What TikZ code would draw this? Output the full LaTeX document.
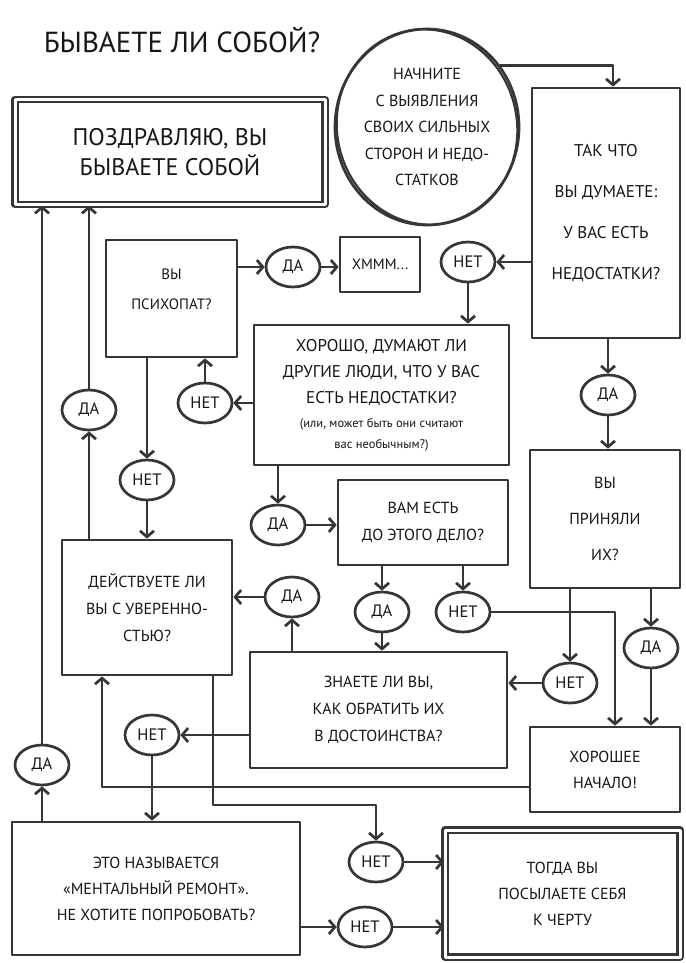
\documentclass[tikz,border=0pt]{standalone}
\usepackage{fontspec}
\setmainfont{PT Sans}
\usetikzlibrary{arrows.meta,shapes.geometric,calc}
\definecolor{ink}{HTML}{363636}
\definecolor{txt}{HTML}{161616}
\begin{document}
\begin{tikzpicture}[x=1pt,y=-1pt,
  line width=2.7pt, draw=ink, line cap=round, line join=round,
  qbox/.style={draw=ink, fill=white, rectangle, align=center, inner sep=0pt, text=txt,
               font=\fontsize{17}{28}\selectfont},
  oval/.style={draw=ink, fill=white, ellipse, minimum width=54pt, minimum height=40pt,
               inner sep=0pt, text=txt, font=\fontsize{16.5}{18}\selectfont},
  arr/.style={draw=ink, -{Straight Barb[length=6pt,width=14pt]}},
  dbl/.style={double=white, double distance=3pt, line width=2.2pt}
]
\fill[white] (0,0) rectangle (685,963);
\useasboundingbox (0,0) rectangle (685,963);

% title
\node[text=txt, font=\fontsize{29}{30}\selectfont] (title) at (182,40) {БЫВАЕТЕ ЛИ СОБОЙ?};

% boxes
\node[qbox, dbl, minimum width=310pt, minimum height=105pt, font=\fontsize{24}{30}\selectfont]
  (congrats) at (170,152) {ПОЗДРАВЛЯЮ, ВЫ\\БЫВАЕТЕ СОБОЙ};
\draw[line width=2.2pt, draw=ink] (427,127) ellipse [x radius=90pt, y radius=98pt, rotate=12];
\node[draw=ink, ellipse, minimum width=184pt, minimum height=196pt, align=center, inner sep=0pt,
      text=txt, font=\fontsize{16}{26.5}\selectfont] (start) at (427,127)
  {НАЧНИТЕ\\С ВЫЯВЛЕНИЯ\\СВОИХ СИЛЬНЫХ\\СТОРОН И НЕДО-\\СТАТКОВ};
\node[qbox, minimum width=148pt, minimum height=250pt, font=\fontsize{17}{41}\selectfont]
  (q1) at (606,213) {ТАК ЧТО\\ВЫ ДУМАЕТЕ:\\У ВАС ЕСТЬ\\НЕДОСТАТКИ?};
\node[qbox, minimum width=131pt, minimum height=117pt, font=\fontsize{15}{30}\selectfont]
  (psycho) at (171.5,298.5) {ВЫ\\ПСИХОПАТ?\\[-12pt]\mbox{}};
\node[qbox, minimum width=80pt, minimum height=55pt, font=\fontsize{15}{18}\selectfont]
  (hmm) at (380,264.5) {ХМММ...};
\node[qbox, minimum width=255pt, minimum height=140pt, font=\fontsize{17}{26}\selectfont]
  (q2) at (381.5,395) {ХОРОШО, ДУМАЮТ ЛИ\\ДРУГИЕ ЛЮДИ, ЧТО У ВАС\\ЕСТЬ НЕДОСТАТКИ?\\[-2pt]{\fontsize{12.5}{14}\selectfont (или, может быть они считают}\\[-5pt]{\fontsize{12.5}{14}\selectfont вас необычным?)}};
\node[qbox, minimum width=170pt, minimum height=85pt, font=\fontsize{16}{27}\selectfont]
  (q3) at (423,522.5) {ВАМ ЕСТЬ\\ДО ЭТОГО ДЕЛО?};
\node[qbox, minimum width=170pt, minimum height=135pt, font=\fontsize{16}{27}\selectfont]
  (q4) at (147,607.5) {ДЕЙСТВУЕТЕ ЛИ\\ВЫ С УВЕРЕННО-\\СТЬЮ?};
\node[qbox, minimum width=257pt, minimum height=116pt, font=\fontsize{16}{27}\selectfont]
  (q5) at (378.5,710) {ЗНАЕТЕ ЛИ ВЫ,\\КАК ОБРАТИТЬ ИХ\\В ДОСТОИНСТВА?};
\node[qbox, minimum width=150pt, minimum height=138pt, font=\fontsize{16}{36}\selectfont]
  (accept) at (605,519) {ВЫ\\ПРИНЯЛИ\\ИХ?};
\node[qbox, minimum width=150pt, minimum height=85pt, font=\fontsize{16}{26}\selectfont]
  (good) at (605,769.5) {ХОРОШЕЕ\\НАЧАЛО!};
\node[qbox, minimum width=288pt, minimum height=133pt, font=\fontsize{16}{26}\selectfont]
  (q6) at (156,888.5) {ЭТО НАЗЫВАЕТСЯ\\«МЕНТАЛЬНЫЙ РЕМОНТ».\\НЕ ХОТИТЕ ПОПРОБОВАТЬ?};
\node[qbox, dbl, minimum width=235pt, minimum height=127pt, font=\fontsize{16}{26}\selectfont]
  (final) at (562.5,893.5) {ТОГДА ВЫ\\ПОСЫЛАЕТЕ СЕБЯ\\К ЧЕРТУ};

% ovals
\node[oval] (net1) at (468,262) {НЕТ};
\node[oval] (da1) at (293,267) {ДА};
\node[oval] (net2) at (205,403) {НЕТ};
\node[oval] (da2) at (89,410) {ДА};
\node[oval] (net3) at (147,480) {НЕТ};
\node[oval] (da3) at (278,525) {ДА};
\node[oval] (da4) at (292,597) {ДА};
\node[oval] (da5) at (382,612) {ДА};
\node[oval] (net4) at (463,612) {НЕТ};
\node[oval] (da6) at (608,395) {ДА};
\node[oval] (net5) at (570,683) {НЕТ};
\node[oval] (da7) at (651,648) {ДА};
\node[oval] (net6) at (152,735) {НЕТ};
\node[oval] (da8) at (42,765) {ДА};
\node[oval] (net7) at (376,862) {НЕТ};
\node[oval] (net8) at (365,927) {НЕТ};

\coordinate (c1) at (102,787);
\coordinate (c2) at (213,805);

% connectors
\draw[arr] (start.40) -| ($(q1.north)+(7,0)$);
\draw[arr] (q1.west |- net1) -- (net1.east);
\draw[arr] (net1.south) -- (net1.south |- q2.north);
\draw[arr] (psycho.east |- da1) -- (da1.west);
\draw[arr] (da1.east) -- (hmm.west |- da1);
\draw[arr] (q2.west |- net2) -- (net2.east);
\draw[arr] (net2.north) -- (net2.north |- psycho.south);
\draw[arr] (psycho.south -| net3) -- (net3.north);
\draw[arr] (net3.south) -- (net3.south |- q4.north);
\draw[arr] (q4.north -| da2) -- (da2.south);
\draw[arr] (da2.north) -- (da2.north |- congrats.south);
\draw[arr] (q2.south -| da3) -- (da3.north);
\draw[arr] (da3.east) -- (q3.west |- da3);
\draw[arr] (q3.south -| da5) -- (da5.north);
\draw[arr] (da5.south) -- (da5.south |- q5.north);
\draw[arr] (q3.south -| net4) -- (net4.north);
\draw[arr] (net4.east) -| ($(good.north)+(10,0)$);
\draw[arr] (q5.north -| da4) -- (da4.south);
\draw[arr] (da4.west) -- (q4.east |- da4);
\draw[arr] (q1.south -| da6) -- (da6.north);
\draw[arr] (da6.south) -- (da6.south |- accept.north);
\draw[arr] (accept.south -| net5) -- (net5.north);
\draw[arr] (net5.west) -- (q5.east |- net5);
\draw[arr] (accept.south -| da7) -- (da7.north);
\draw[arr] (da7.south) -- (da7.south |- good.north);
\draw[arr] (good.west |- c1) -- (c1) -- (c1 |- q4.south);
\draw[arr] (q5.west |- net6) -- (net6.east);
\draw[arr] (net6.south) -- (net6.south |- q6.north);
\draw[arr] (q6.north -| da8) -- (da8.south);
\draw[arr] (da8.north) -- (da8.north |- congrats.south);
\draw[arr] (q4.south -| c2) -- (c2) -| (net7.north);
\draw[arr] (net7.east) -- (final.west |- net7);
\draw[arr] (q6.east |- net8) -- (net8.west);
\draw[arr] (net8.east) -- (final.west |- net8);
\end{tikzpicture}
\end{document}
